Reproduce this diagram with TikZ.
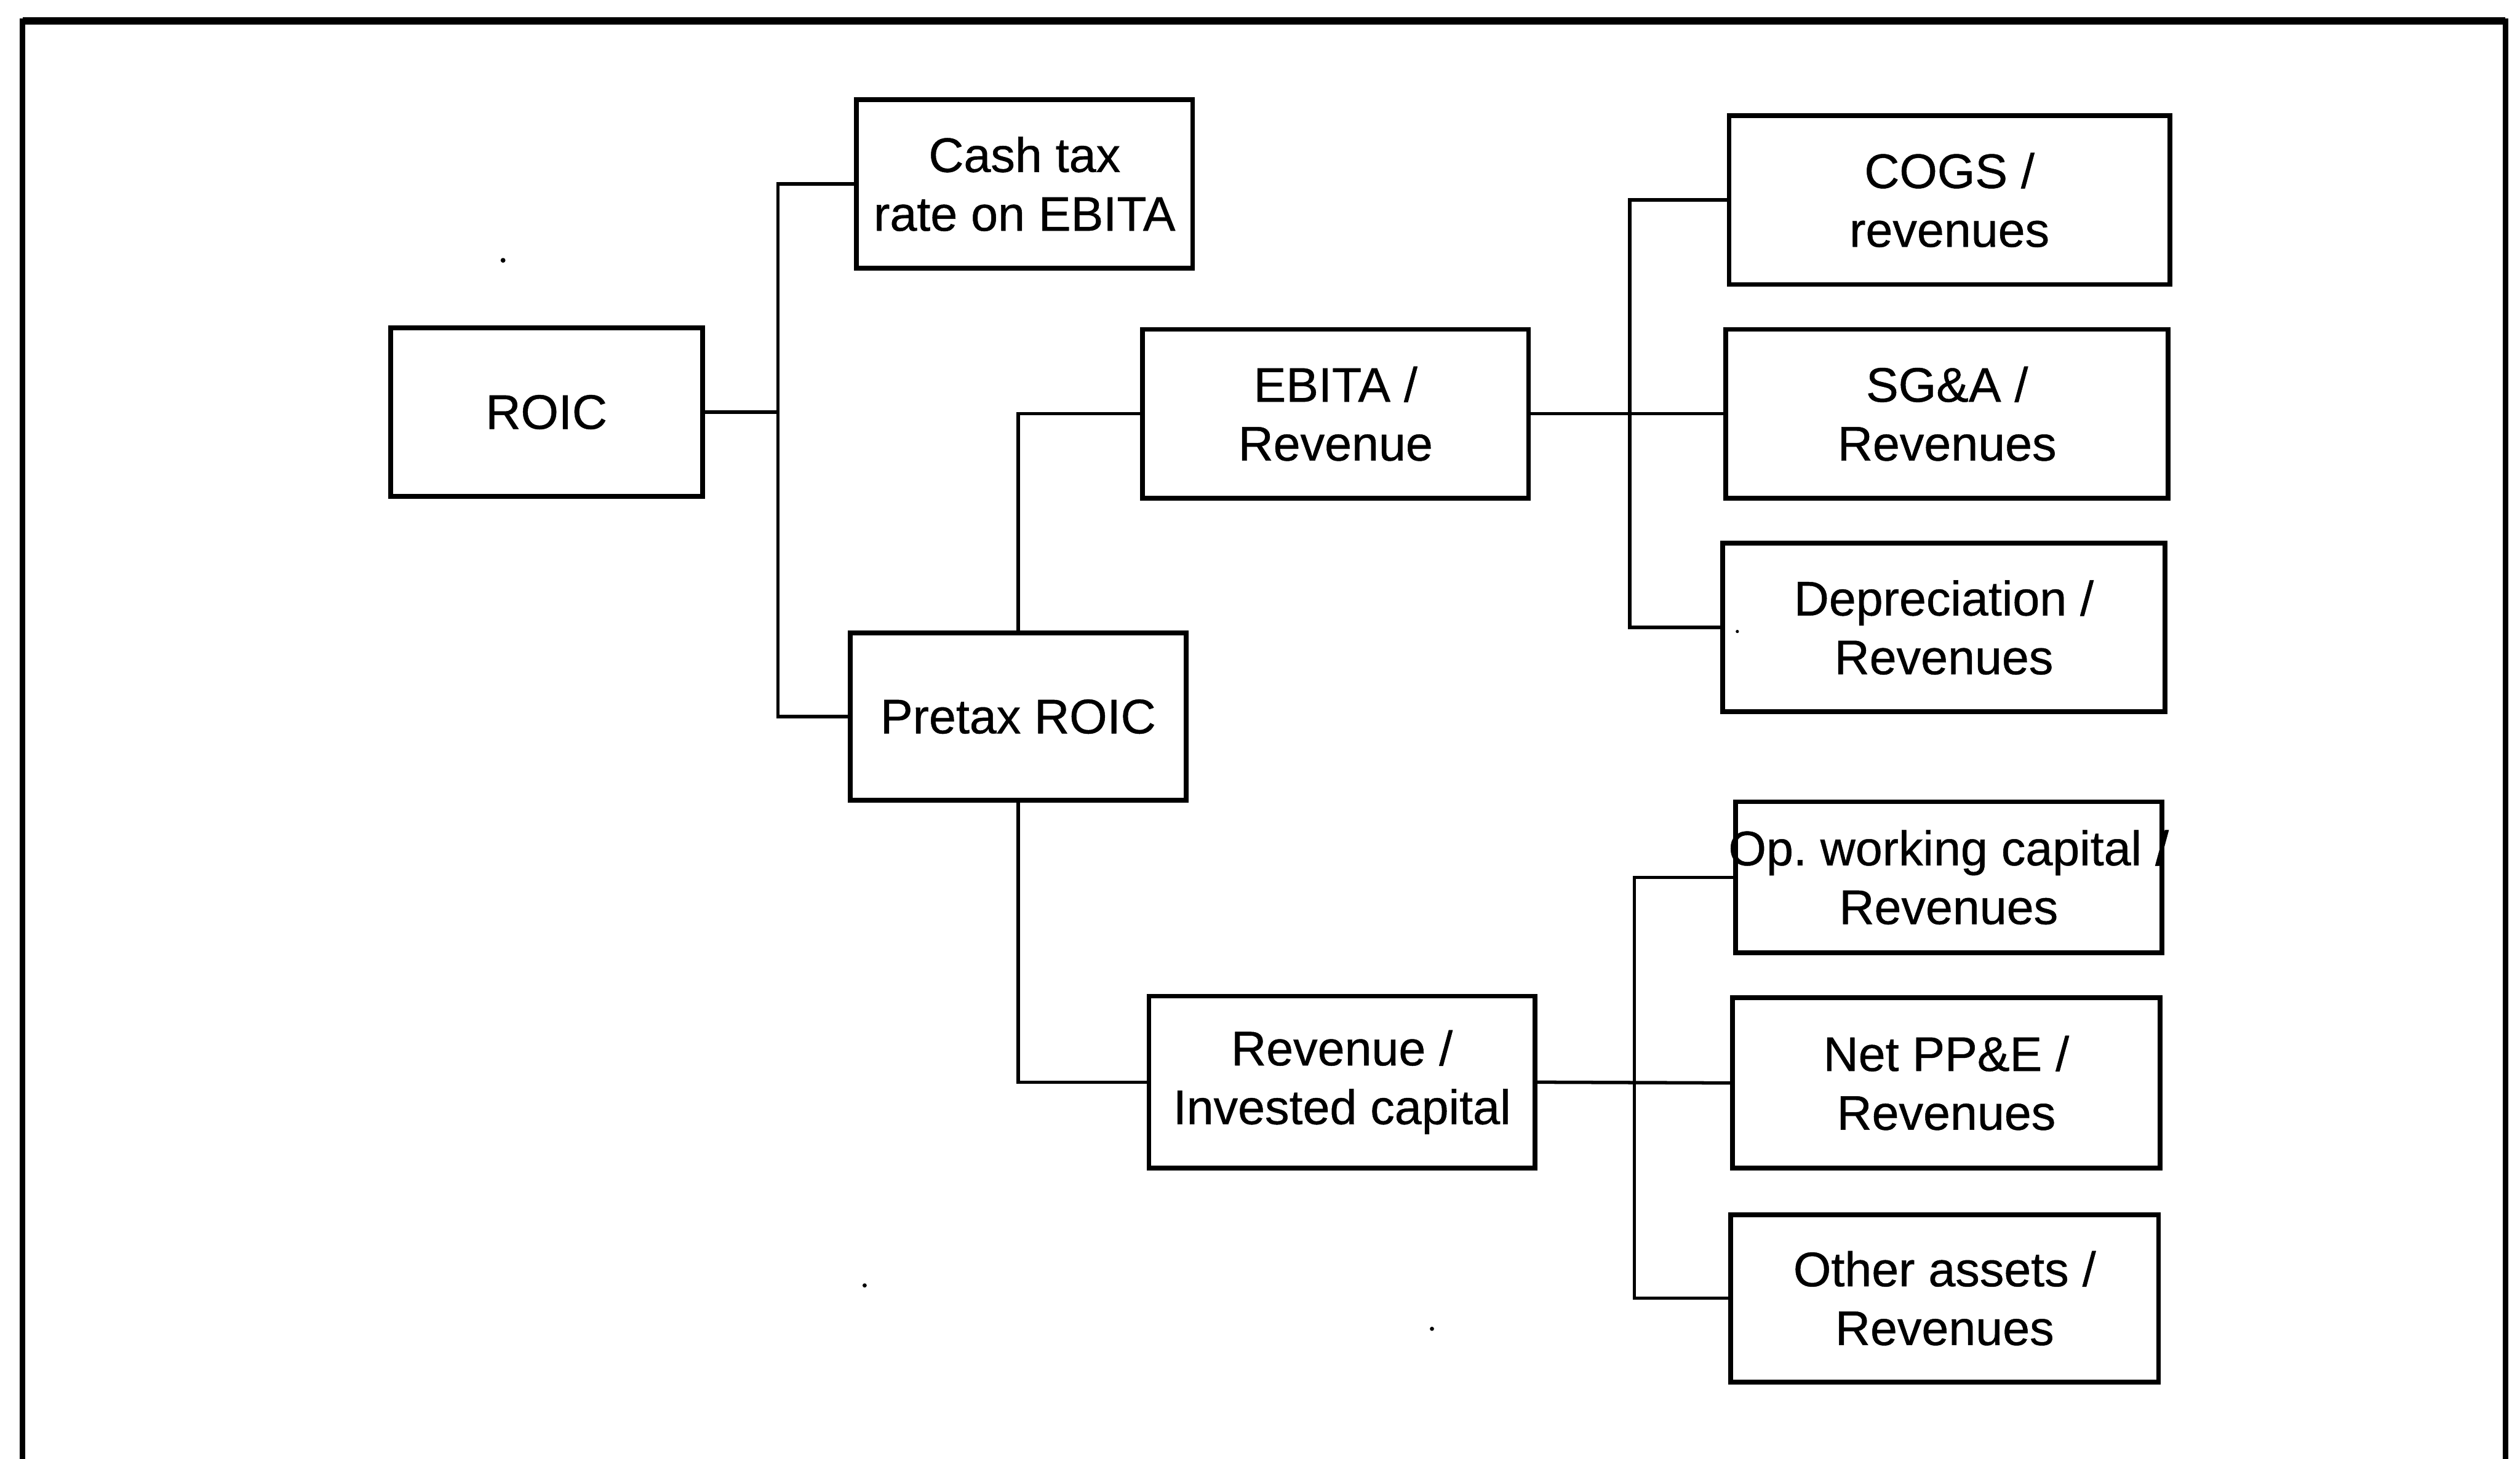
\documentclass[tikz,border=0pt]{standalone}
\usepackage{fontspec}
\setmainfont{Liberation Sans}
\newfontfamily\boxfont{Liberation Sans}[FakeBold=0.6]
\frenchspacing
\begin{document}
\begin{tikzpicture}[x=0.01cm,y=-0.01cm,
  box/.style={draw, line width=0.85pt, inner sep=0pt, align=center,
    font=\boxfont\fontsize{8.6}{10.4}\selectfont},
  link/.style={line width=0.6pt},
  frame/.style={line width=0.9pt},
  speck/.style={fill=black}]
\useasboundingbox (0,0) rectangle (1568,908);

% outer frame (bottom edge runs off the page)
\draw[frame] (14,930) -- (14,13) -- (1559,13) -- (1559,930);
\draw[line width=1.3pt] (14,13) -- (1559,13);

% boxes
\node[box, minimum width=1.94cm, minimum height=1.05cm] (roic)   at (340,256.5)  {ROIC};
\node[box, minimum width=2.09cm, minimum height=1.05cm] (tax)    at (637.5,114.5) {Cash tax\\rate on EBITA};
\node[box, minimum width=2.40cm, minimum height=1.05cm] (ebita)  at (831,257.5)  {EBITA /\\Revenue};
\node[box, minimum width=2.09cm, minimum height=1.04cm] (pretax) at (633.5,446)  {Pretax ROIC};
\node[box, minimum width=2.40cm, minimum height=1.07cm] (ric)    at (835,673.5)  {Revenue /\\Invested capital};

\node[box, minimum width=2.74cm, minimum height=1.05cm] (cogs) at (1213,124.5)   {COGS /\\revenues};
\node[box, minimum width=2.75cm, minimum height=1.05cm] (sga)  at (1211.5,257.5) {SG\&A /\\Revenues};
\node[box, minimum width=2.75cm, minimum height=1.05cm] (dep)  at (1209.5,390.5) {Depreciation /\\Revenues};

\node[box, minimum width=2.65cm, minimum height=0.94cm] (owc) at (1212.5,546) {\makebox[0pt]{Op. working capital /}\\Revenues};
\node[box, minimum width=2.66cm, minimum height=1.06cm] (ppe) at (1211,674)   {Net PP\&E /\\Revenues};
\node[box, minimum width=2.66cm, minimum height=1.04cm] (oth) at (1210,808)   {Other assets /\\Revenues};

% bus junctions
\coordinate (j1) at (484,256.5);
\coordinate (j2) at (1014,257.5);
\coordinate (j3) at (1017,673.5);

% connectors
\draw[link] (roic.east) -- (j1);
\draw[link] (tax.west) -| (j1) |- (pretax.west);
\draw[link] (pretax.north) |- (ebita.west);
\draw[link] (pretax.south) |- (ric.west);

\draw[link] (ebita.east) -- (sga.west);
\draw[link] (cogs.west) -| (j2) |- (dep.west);

\draw[link] (ric.east) -- (ppe.west);
\draw[link] (owc.west) -| (j3) |- (oth.west);

% small specks
\fill[speck] (313,162) circle[radius=0.015cm];
\fill[speck] (538,800) circle[radius=0.013cm];
\fill[speck] (891,827) circle[radius=0.013cm];
\fill[speck] (1081,393) circle[radius=0.01cm];
\end{tikzpicture}
\end{document}
